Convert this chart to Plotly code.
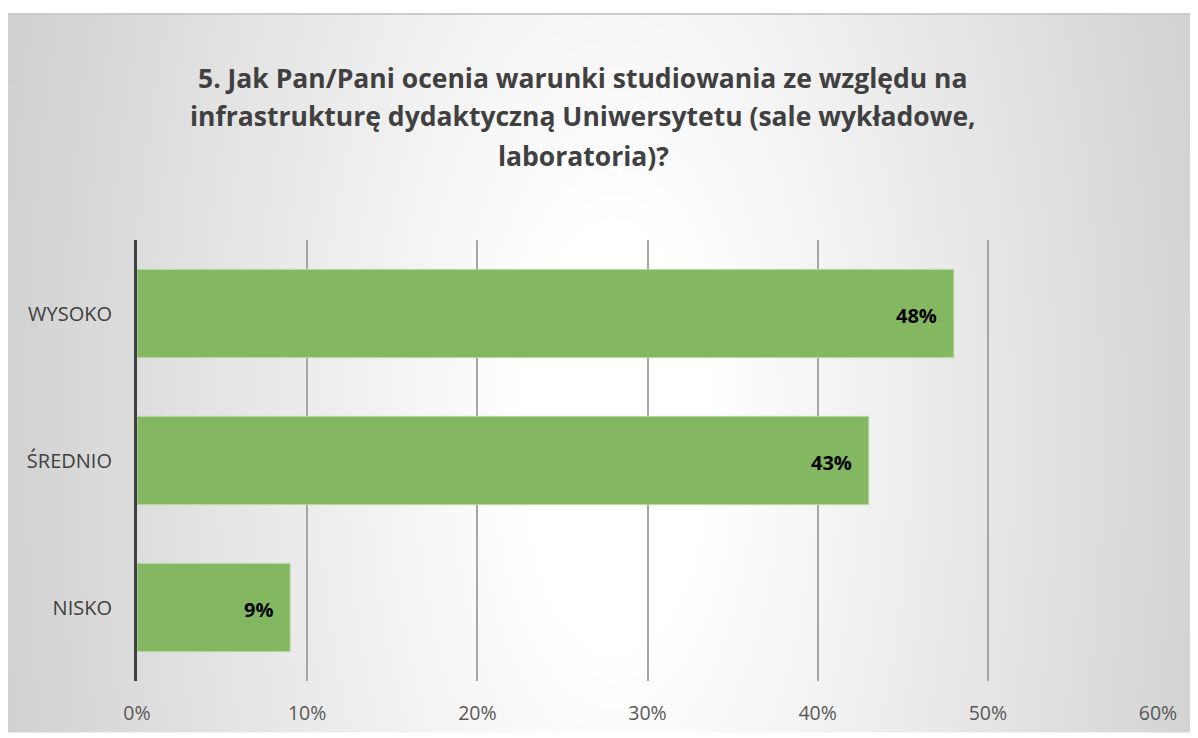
import zlib, struct, base64
import plotly.graph_objects as go

# ---- data ----
categories = ["WYSOKO", "ŚREDNIO", "NISKO"]
values = [48, 43, 9]
title_lines = [
    "5. Jak Pan/Pani ocenia warunki studiowania ze względu na",
    "infrastrukturę dydaktyczną Uniwersytetu (sale wykładowe,",
    "laboratoria)?",
]
x_ticks = [0, 10, 20, 30, 40, 50, 60]
x_tick_text = [f"{v}%" for v in x_ticks]

# ---- figure geometry (px, figure coords; page has an 8px body margin) ----
OFF = 8
W, H = 1190, 730
L, R, T, B = 129, 40, 232, 52
PW, PH = W - L - R, H - T - B
BOX_X0, BOX_Y0 = 0, 4


def px_to_paper_x(px):
    return (px - L) / PW


def px_to_paper_y(py):
    return (H - B - py) / PH


# ---- radial-ish gradient background as PNG ----
def make_png(w, h, rows):
    raw = b"".join(b"\x00" + bytes(r) for r in rows)

    def chunk(t, d):
        return struct.pack(">I", len(d)) + t + d + struct.pack(">I", zlib.crc32(t + d) & 0xFFFFFFFF)

    return (b"\x89PNG\r\n\x1a\n" + chunk(b"IHDR", struct.pack(">IIBBBBB", w, h, 8, 0, 0, 0, 0))
            + chunk(b"IDAT", zlib.compress(raw)) + chunk(b"IEND", b""))


IW, IH = 300, 182
cx, cy, rx, ry = 615, 440, 620, 1400  # page coords
rows = []
for j in range(IH):
    yy = OFF + BOX_Y0 + (j + 0.5) * (H - BOX_Y0) / IH
    row = []
    for i in range(IW):
        xx = OFF + BOX_X0 + (i + 0.5) * (W - BOX_X0) / IW
        d = (((xx - cx) / rx) ** 2 + ((yy - cy) / ry) ** 2) ** 0.5
        t = min(max((d - 0.15) / 0.85, 0.0), 1.25)
        v = int(round(255 - 46 * t))
        row.append(max(min(v, 255), 190))
    rows.append(row)
bg_uri = "data:image/png;base64," + base64.b64encode(make_png(IW, IH, rows)).decode()

fig = go.Figure()
fig.add_trace(go.Bar(
    y=categories, x=values, orientation="h",
    marker=dict(color="#83b762", line=dict(color="#b7d7a3", width=1)),
    hoverinfo="skip",
))

annotations = []
for c, v in zip(categories, values):
    annotations.append(dict(
        x=v, y=c, xref="x", yref="y", text=f"<b>{v}%</b>", showarrow=False,
        xanchor="right", yanchor="middle", xshift=-15, yshift=-2,
        font=dict(family="Open Sans", size=20, color="#000000"),
    ))
title_py = [76 - OFF, 115 - OFF, 155 - OFF]
for line, py in zip(title_lines, title_py):
    annotations.append(dict(
        x=px_to_paper_x(583 - OFF), y=px_to_paper_y(py), xref="paper", yref="paper",
        text=f"<b>{line}</b>", showarrow=False, xanchor="center", yanchor="middle",
        font=dict(family="Open Sans", size=26.5, color="#404040"),
    ))

fig.update_layout(
    width=W, height=H,
    margin=dict(l=L, r=R, t=T, b=B, pad=0),
    paper_bgcolor="#ffffff", plot_bgcolor="rgba(0,0,0,0)",
    showlegend=False, bargap=0.4,
    annotations=annotations,
    images=[dict(
        source=bg_uri, xref="paper", yref="paper",
        x=px_to_paper_x(BOX_X0), y=px_to_paper_y(BOX_Y0),
        sizex=px_to_paper_x(W) - px_to_paper_x(BOX_X0),
        sizey=px_to_paper_y(BOX_Y0) - px_to_paper_y(H),
        xanchor="left", yanchor="top", sizing="stretch", layer="below",
    )],
    shapes=[dict(
        type="line", xref="paper", yref="paper",
        x0=px_to_paper_x(BOX_X0), x1=px_to_paper_x(W),
        y0=px_to_paper_y(BOX_Y0 - 0.5), y1=px_to_paper_y(BOX_Y0 - 0.5),
        line=dict(color="#bdbdbd", width=1.5), layer="above",
    )],
    xaxis=dict(
        range=[0, 60], tickvals=x_ticks, ticktext=x_tick_text,
        showgrid=True, gridcolor="#a6a6a6", gridwidth=1.5, zeroline=False,
        showline=False, ticks="", ticklabelstandoff=18,
        tickfont=dict(family="Open Sans", size=19.5, color="#595959"),
    ),
    yaxis=dict(
        autorange="reversed", showgrid=False, zeroline=False,
        showline=True, linecolor="#404040", linewidth=3, ticks="",
        ticklabelstandoff=18,
        tickfont=dict(family="Open Sans", size=20, color="#404040"),
    ),
)

fig.write_html("out.html")
